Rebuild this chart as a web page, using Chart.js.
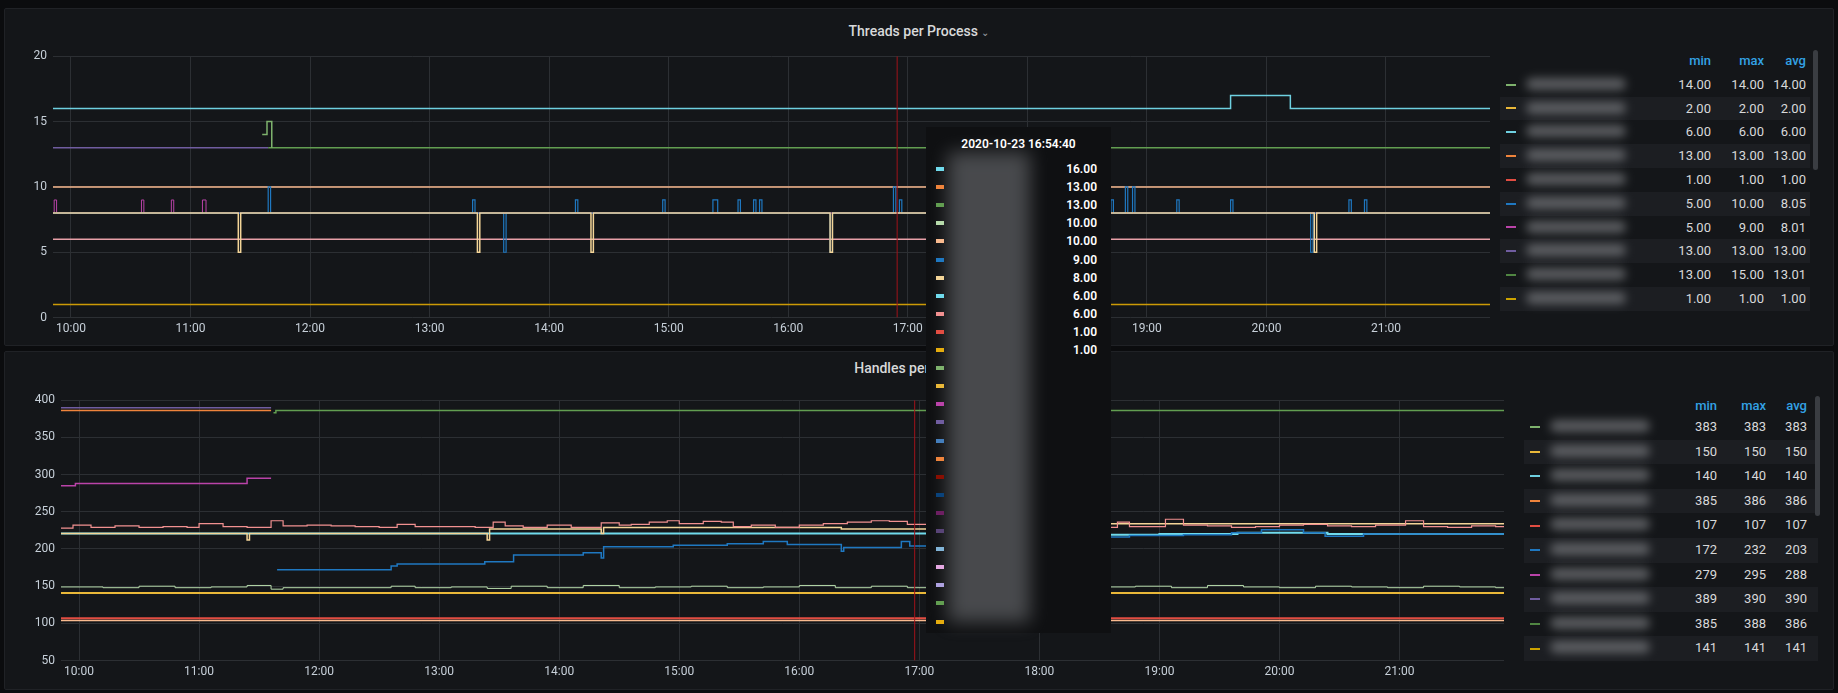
<!DOCTYPE html>
<html>
<head>
<meta charset="utf-8">
<script src="https://cdn.jsdelivr.net/npm/chart.js@4.4.0/dist/chart.umd.min.js"></script>
<style>
  body { margin: 0; background: #0b0c0e; width: 1838px; height: 693px; overflow: hidden; font-family: Roboto, "Noto Sans", sans-serif; color: #d8d9da; }
  .panel { position: absolute; background: #141619; border: 1px solid #202226; border-radius: 2px; }
  .title { position: absolute; width: 100%; text-align: center; font-size: 14px; font-weight: 500; color: #d8d9da; }
  .cv { position: absolute; }
  .legend { position: absolute; font-size: 13px; }
  .legend .row { position: relative; height: 24px; line-height: 24px; }
  .legend .row.alt { background: #1c1e22; }
  .legend .sw { position: absolute; left: 6px; top: 11px; width: 10px; height: 2px; }
  .legend .nm { position: absolute; left: 26px; top: 5px; width: 100px; height: 12px; background: #8a8c90; filter: blur(5px); opacity: .6; border-radius: 6px; }
  .legend .v { position: absolute; text-align: right; width: 50px; }
  .legend .hd { color: #33a2e5; font-weight: 500; }
  .scroll { position: absolute; width: 5px; background: #3a3d42; border-radius: 3px; }
  #tip { position: absolute; left: 926px; top: 127px; width: 185px; height: 506px; background: #0f1012; }
  #tip .tt { position: absolute; left: 0; top: 10px; width: 185px; text-align: center; font-size: 12px; font-weight: 600; color: #fff; }
  #tip .r { position: absolute; left: 0; width: 185px; height: 18px; font-size: 12px; font-weight: 600; color: #fff; }
  #tip .r .sq { position: absolute; left: 10px; top: 6px; width: 8px; height: 4px; }
  #tip .r .val { position: absolute; right: 14px; top: 1px; }
  #tip .blur { position: absolute; left: 22px; top: 25px; width: 82px; height: 470px; background: #77797d; filter: blur(9px); opacity: .55; }
</style>
</head>
<body>
<div class="panel" style="left:4px;top:8px;width:1828px;height:336px;">
  <div class="title" style="top:14px;">Threads per Process <span style="font-size:10px;color:#9fa1a5">&#8964;</span></div>
</div>
<div class="panel" style="left:4px;top:351px;width:1828px;height:337px;">
  <div class="title" style="top:8px;">Handles per Process</div>
</div>
<canvas id="threads" class="cv" style="left:8px;top:43px;width:1482px;height:297px;"></canvas>
<canvas id="handles" class="cv" style="left:8px;top:387px;width:1496px;height:296px;"></canvas>
<div id="legendTop" class="legend" style="left:1500px;top:49px;width:310px;"></div>
<div class="scroll" style="left:1813px;top:50px;height:120px;"></div>
<div id="legendBottom" class="legend" style="left:1524px;top:397px;width:294px;"></div>
<div class="scroll" style="left:1815px;top:396px;height:120px;"></div>
<div id="tip"><div class="blur"></div><div class="tt">2020-10-23 16:54:40</div></div>

<script>
const X_MIN = 9.85;
const X_MAX = 21.87;
const HOVER_T = 16.911;

// ---- Threads per Process (time in hours, value) ----
const thCyanT = [9.85, 19.7, 20.2];
const thCyanV = [16, 17, 16];
const thPurpleT = [9.85, 11.65];
const thPurpleV = [13, 13];
const thOliveT = [11.65, 11.67];
const thOliveV = [13, 13];
const thGreenT = [11.6, 11.62, 11.64, 11.66, 11.68];
const thGreenV = [14, 14, 15, 15, 13];
const thPeachT = [9.85];
const thPeachV = [10];
const thBeigeT = [9.85, 11.4, 11.42, 13.4, 13.42, 14.35, 14.37, 16.35, 16.37, 20.4, 20.42];
const thBeigeV = [8, 5, 8, 5, 8, 5, 8, 5, 8, 5, 8];
const thBlueT = [9.85, 11.65, 11.67, 13.36, 13.38, 13.62, 13.64, 14.22, 14.24, 14.95, 14.97, 15.37, 15.41, 15.58, 15.6, 15.71, 15.73, 15.76, 15.78, 16.35, 16.37, 16.88, 16.9, 16.93, 16.95,
  17.95, 17.97, 18.35, 18.37, 18.58, 18.6, 18.65, 18.67, 18.7, 18.72, 18.82, 18.84, 18.88, 18.9, 19.25, 19.27, 19.7, 19.72, 20.37, 20.39, 20.69, 20.71, 20.82, 20.84];
const thBlueV = [8, 10, 8, 9, 8, 5, 8, 9, 8, 9, 8, 9, 8, 9, 8, 9, 8, 9, 8, 5, 8, 10, 8, 9, 8,
  9, 8, 9, 8, 9, 8, 9, 8, 9, 8, 10, 8, 10, 8, 9, 8, 9, 8, 5, 8, 9, 8, 9, 8];
const thMagentaT = [9.85, 9.86, 9.88, 10.59, 10.61, 10.84, 10.86, 11.1, 11.13];
const thMagentaV = [8, 9, 8, 9, 8, 9, 8, 9, 8];
const thPinkT = [9.85];
const thPinkV = [6];
const thGoldT = [9.85];
const thGoldV = [1];

// ---- Handles per Process ----
const hPurpleT = [9.85, 11.6];
const hPurpleV = [390, 390];
const hOrangeT = [9.85, 11.6];
const hOrangeV = [386, 386];
const hOliveT = [11.62, 11.64];
const hOliveV = [383, 386];
const hMagentaT = [9.85, 9.97, 11.4, 11.6];
const hMagentaV = [285, 288, 295, 295];
const hSalmonT = [9.85, 9.95, 10.1, 10.3, 10.5, 10.7, 10.9, 11.0, 11.2, 11.4, 11.6, 11.7, 11.9, 12.1, 12.3, 12.5, 12.65, 12.8, 13.1, 13.3, 13.45, 13.55, 13.7, 13.9, 14.1, 14.35, 14.5, 14.6,
  14.75, 14.9, 15.0, 15.2, 15.35, 15.45, 15.6, 15.8, 16.0, 16.2, 16.4, 16.6, 16.75, 16.9,
  18.5, 18.65, 18.75, 18.95, 19.05, 19.2, 19.4, 19.6, 19.8, 20.0, 20.2, 20.4, 20.6, 20.8, 20.95, 21.05, 21.2, 21.4, 21.6, 21.8];
const hSalmonV = [228, 232, 229, 231, 229, 230, 229, 234, 230, 229, 238, 231, 232, 231, 230, 229, 233, 230, 230, 229, 236, 231, 229, 232, 229, 235, 232, 233,
  236, 238, 234, 237, 236, 230, 232, 229, 232, 234, 236, 238, 237, 233,
  229, 236, 230, 230, 240, 232, 231, 229, 230, 232, 233, 231, 230, 232, 232, 238, 230, 229, 231, 230];
const hCyanT = [9.85, 18.5, 19.0, 19.65, 20.4];
const hCyanV = [221, 219, 220, 222, 220];
const hBeigeT = [9.85, 11.4, 11.42, 13.4, 13.42, 14.35, 14.37, 15.9, 16.35, 18.5, 20.4];
const hBeigeV = [221, 212, 221, 212, 227, 221, 229, 229, 227, 234, 234];
const hBlueT = [11.65, 12.6, 12.65, 13.38, 13.62, 13.65, 14.2, 14.35, 14.37, 14.95, 15.4, 15.7, 15.9, 16.35, 16.37, 16.85, 16.92,
  18.5, 18.75, 19.2, 19.6, 19.85, 20.2, 20.38, 20.7];
const hBlueV = [172, 177, 180, 183, 192, 192, 195, 188, 203, 205, 207, 210, 206, 197, 202, 210, 204,
  216, 218, 219, 222, 226, 222, 217, 220];
const hLightGreenT = [9.85, 10.2, 10.5, 10.8, 11.1, 11.4, 11.6, 11.7, 12.6, 12.8, 13.1, 13.4, 13.6, 13.9, 14.2, 14.5, 14.8, 15.1, 15.4, 15.7, 16.0, 16.3, 16.6, 16.9,
  18.5, 18.8, 19.1, 19.4, 19.7, 20.0, 20.3, 20.6, 20.9, 21.2, 21.5, 21.8];
const hLightGreenV = [149, 148, 150, 148, 149, 151, 146, 148, 150, 148, 149, 147, 150, 148, 151, 148, 149, 150, 148, 149, 151, 148, 150, 148,
  149, 150, 148, 151, 149, 148, 150, 149, 148, 150, 149, 148];
const hYellowT = [9.85];
const hYellowV = [141];
const hRedT = [9.85];
const hRedV = [107];
const hPeachT = [9.85];
const hPeachV = [104];

// ---- legends ----
const legTopColors = ['#7eb26d', '#eab839', '#6ed0e0', '#ef843c', '#e24d42', '#1f78c1', '#ba43a9', '#705da0', '#508642', '#cca300'];
const legTopMin = ['14.00', '2.00', '6.00', '13.00', '1.00', '5.00', '5.00', '13.00', '13.00', '1.00'];
const legTopMax = ['14.00', '2.00', '6.00', '13.00', '1.00', '10.00', '9.00', '13.00', '15.00', '1.00'];
const legTopAvg = ['14.00', '2.00', '6.00', '13.00', '1.00', '8.05', '8.01', '13.00', '13.01', '1.00'];
const legBotColors = ['#7eb26d', '#eab839', '#6ed0e0', '#ef843c', '#e24d42', '#1f78c1', '#ba43a9', '#705da0', '#508642', '#cca300'];
const legBotMin = ['383', '150', '140', '385', '107', '172', '279', '389', '385', '141'];
const legBotMax = ['383', '150', '140', '386', '107', '232', '295', '390', '388', '141'];
const legBotAvg = ['383', '150', '140', '386', '107', '203', '288', '390', '386', '141'];

// ---- tooltip ----
const tipColors = ['#70dbed', '#ef843c', '#629e51', '#b7dbab', '#f9ba8f', '#1f78c1', '#f4d598', '#70dbed', '#f29191', '#e24d42', '#e5ac0e',
  '#7eb26d', '#eab839', '#ba43a9', '#705da0', '#447ebc', '#ef843c', '#890f02', '#0a437c', '#6d1f62', '#584477', '#82b5d8', '#e5a8e2', '#aea2e0', '#629e51', '#e5ac0e'];
const tipValues = ['16.00', '13.00', '13.00', '10.00', '10.00', '9.00', '8.00', '6.00', '6.00', '1.00', '1.00'];

function pts(ts, vs) {
    const out = ts.map((t, i) => ({ x: t, y: vs[i] }));
    const last = out[out.length - 1];
    if (last.x < X_MAX) out.push({ x: X_MAX, y: last.y });
    return out;
}
function ptsEnd(ts, vs) {
    return ts.map((t, i) => ({ x: t, y: vs[i] }));
}

function ds(data, color, width) {
    return { data, borderColor: color, borderWidth: width || 1.5, pointRadius: 0, stepped: 'before', fill: false };
}

function hourLabel(v) {
    return Number.isInteger(v) ? String(v).padStart(2, '0') + ':00' : '';
}

function makeOptions(yMin, yMax, yStep, yWidth) {
    return {
        responsive: false,
        animation: false,
        layout: { padding: { top: 5, right: 0 } },
        plugins: { legend: { display: false }, tooltip: { enabled: false } },
        scales: {
            x: {
                type: 'linear', min: X_MIN, max: X_MAX,
                afterBuildTicks: s => { s.ticks = [10, 11, 12, 13, 14, 15, 16, 17, 18, 19, 20, 21].map(v => ({ value: v })); },
                ticks: { color: '#c7d0d9', font: { size: 12, family: 'Roboto' }, callback: hourLabel, maxRotation: 0, padding: 4 },
                grid: { color: '#2c2f33', drawTicks: false },
                border: { display: false }
            },
            y: {
                min: yMin, max: yMax,
                afterFit: s => { s.width = yWidth; },
                ticks: { stepSize: yStep, color: '#c7d0d9', font: { size: 12, family: 'Roboto' }, padding: 6 },
                grid: { color: '#2c2f33', drawTicks: false },
                border: { display: false }
            }
        }
    };
}

function setupCanvas(id, w, h) {
    const c = document.getElementById(id);
    c.width = w; c.height = h;
    return c.getContext('2d');
}

// Chart.js paints the first dataset on top, so the topmost lines come first
new Chart(setupCanvas('threads', 1482, 297), {
    type: 'line',
    data: {
        datasets: [
            { data: [{ x: HOVER_T, y: 0 }, { x: HOVER_T, y: 20 }], borderColor: '#a1131a', borderWidth: 1, pointRadius: 0 },
            ds(pts(thBeigeT, thBeigeV), '#f4d598', 1.5),
            ds(pts(thBlueT, thBlueV), '#1f78c1', 1.2),
            ds(pts(thMagentaT, thMagentaV), '#ba43a9', 1),
            ds(pts(thCyanT, thCyanV), '#6ed0e0'),
            ds(ptsEnd(thGreenT, thGreenV), '#7eb26d'),
            ds(pts(thOliveT, thOliveV), '#629e51'),
            ds(ptsEnd(thPurpleT, thPurpleV), '#705da0'),
            ds(pts(thPeachT, thPeachV), '#f9ba8f'),
            ds(pts(thPinkT, thPinkV), '#e8a0a8'),
            ds(pts(thGoldT, thGoldV), '#cc9a06')
        ]
    },
    options: makeOptions(0, 20, 5, 45)
});

new Chart(setupCanvas('handles', 1496, 296), {
    type: 'line',
    data: {
        datasets: [
            { data: [{ x: HOVER_T + 0.05, y: 50 }, { x: HOVER_T + 0.05, y: 400 }], borderColor: '#a1131a', borderWidth: 1, pointRadius: 0 },
            ds(pts(hSalmonT, hSalmonV), '#f29191', 1.2),
            ds(pts(hLightGreenT, hLightGreenV), '#b7dbab', 1),
            ds(pts(hBlueT, hBlueV), '#1f78c1'),
            ds(pts(hBeigeT, hBeigeV), '#f4d598'),
            ds(pts(hCyanT, hCyanV), '#70dbed', 2),
            ds(pts(hOliveT, hOliveV), '#629e51'),
            ds(ptsEnd(hOrangeT, hOrangeV), '#ef843c'),
            ds(ptsEnd(hPurpleT, hPurpleV), '#705da0'),
            ds(ptsEnd(hMagentaT, hMagentaV), '#ba43a9'),
            ds(pts(hYellowT, hYellowV), '#eab839', 2),
            ds(pts(hRedT, hRedV), '#e24d42', 2),
            ds(pts(hPeachT, hPeachV), '#f9ba8f', 1.5)
        ]
    },
    options: makeOptions(50, 400, 50, 53)
});

function buildLegend(el, colors, mins, maxs, avgs, rowH, headH, cols) {
    let html = '<div class="row" style="height:' + headH + 'px;line-height:' + headH + 'px">' +
        cols.map((c, i) => '<span class="v hd" style="left:' + c + 'px">' + ['min', 'max', 'avg'][i] + '</span>').join('') + '</div>';
    colors.forEach((col, i) => {
        html += '<div class="row' + (i % 2 === 1 ? ' alt' : '') + '" style="height:' + rowH + 'px;line-height:' + rowH + 'px">' +
            '<span class="sw" style="background:' + col + ';top:' + (rowH / 2 - 1) + 'px"></span><span class="nm"></span>' +
            '<span class="v" style="left:' + cols[0] + 'px">' + mins[i] + '</span>' +
            '<span class="v" style="left:' + cols[1] + 'px">' + maxs[i] + '</span>' +
            '<span class="v" style="left:' + cols[2] + 'px">' + avgs[i] + '</span></div>';
    });
    el.innerHTML = html;
}
buildLegend(document.getElementById('legendTop'), legTopColors, legTopMin, legTopMax, legTopAvg, 23.8, 23.8, [161, 214, 256]);
buildLegend(document.getElementById('legendBottom'), legBotColors, legBotMin, legBotMax, legBotAvg, 24.6, 18, [143, 192, 233]);

const tip = document.getElementById('tip');
tipColors.forEach((col, i) => {
    const r = document.createElement('div');
    r.className = 'r';
    r.style.top = (34 + i * 18.1) + 'px';
    r.innerHTML = '<span class="sq" style="background:' + col + '"></span>' + (tipValues[i] ? '<span class="val">' + tipValues[i] + '</span>' : '');
    tip.appendChild(r);
});
</script>
</body>
</html>
